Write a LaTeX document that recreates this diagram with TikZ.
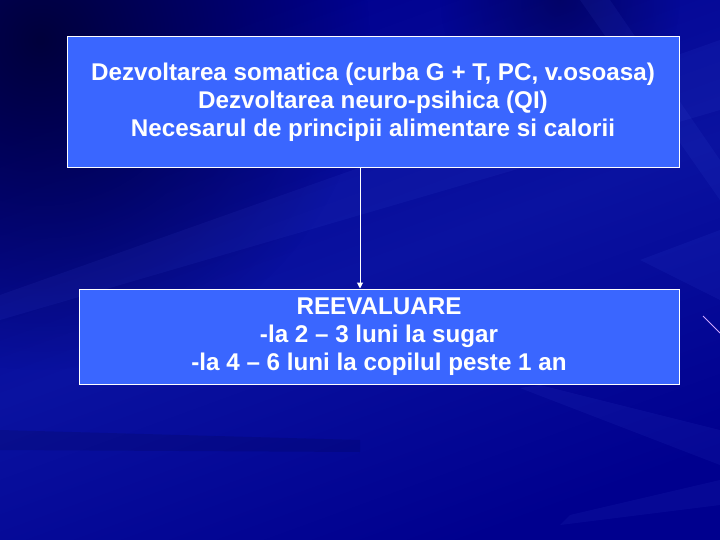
\documentclass[tikz,border=0pt]{standalone}
\usepackage{fontspec}
\setmainfont{Liberation Sans}
\usetikzlibrary{arrows.meta,fadings}
\tikzfading[name=softfade, inner color=transparent!0, outer color=transparent!100]
\definecolor{bgdark}{HTML}{00003C}
\definecolor{bgmid}{HTML}{0A12A0}
\definecolor{bglow}{HTML}{00008E}
\definecolor{boxfill}{HTML}{3A66FF}
\definecolor{streak}{HTML}{5A78FF}
\definecolor{pinkline}{HTML}{D0A8FF}
\tikzset{
  infobox/.style={draw=white, line width=1pt, fill=boxfill, text=white,
    inner sep=0pt, align=center,
    font=\fontsize{24.2}{28}\selectfont\bfseries},
  link/.style={draw=white, line width=1pt, -{Triangle[length=6pt,width=6pt]}},
  lightstreak/.style={fill=streak, opacity=0.07},
  darkstreak/.style={fill=black, opacity=0.10}
}
\begin{document}
\begin{tikzpicture}[x=1pt,y=-1pt]
\useasboundingbox (0,0) rectangle (720,540);
% background
\shade[shading=axis, top color=bglow, bottom color=bglow, middle color=bgmid, shading angle=20] (0,0) rectangle (720,540);
\begin{scope}
\clip (0,0) rectangle (720,540);
\fill[bgdark, path fading=softfade] (40,40) circle (330pt);
\fill[bgdark, opacity=0.5, path fading=softfade] (560,0) circle (120pt);
\end{scope}
\fill[lightstreak] (720,40) -- (720,110) -- (0,320) -- (0,295) -- cycle;
\fill[lightstreak] (720,430) -- (720,465) -- (520,388) -- (540,385) -- cycle;
\fill[lightstreak] (720,480) -- (720,505) -- (560,525) -- (570,515) -- cycle;
\fill[darkstreak] (0,430) -- (360,440) -- (360,452) -- (0,450) -- cycle;
\fill[lightstreak] (720,230) -- (720,300) -- (640,260) -- cycle;
\fill[lightstreak] (580,0) -- (610,0) -- (720,160) -- (720,200) -- cycle;
\draw[pinkline, line width=1pt] (703,316) -- (720,333);
% boxes
\node[infobox, minimum width=612pt, minimum height=131pt] (b1) at (373,102.5)
  {Dezvoltarea somatica (curba G + T, PC, v.osoasa)\\
   Dezvoltarea neuro-psihica (QI)\\
   Necesarul de principii alimentare si calorii};
\node[infobox, minimum width=600pt, minimum height=95pt] (b2) at (379,336.5)
  {REEVALUARE\\
   -la 2 – 3 luni la sugar\\
   -la 4 – 6 luni la copilul peste 1 an};
\draw[link] ([xshift=-13pt]b1.south) -- ([xshift=-19pt]b2.north);
\end{tikzpicture}
\end{document}
